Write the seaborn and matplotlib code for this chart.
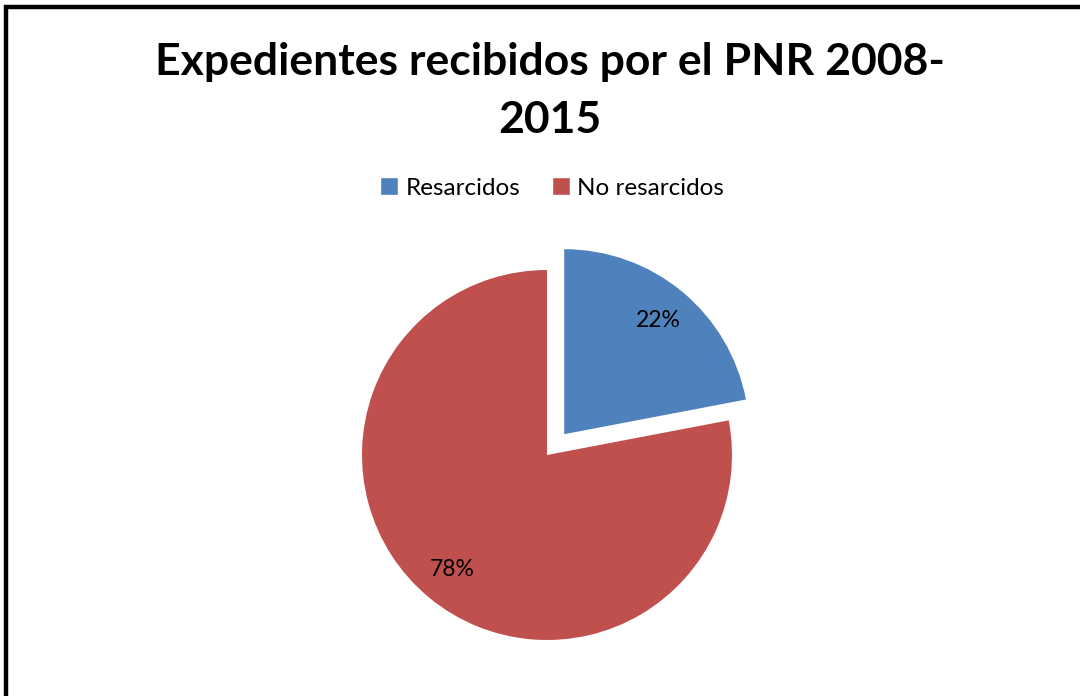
import matplotlib
matplotlib.use("Agg")
import matplotlib.pyplot as plt
from matplotlib.patches import Rectangle
import seaborn as sns

sns.set_theme(style="white")
plt.rcParams["font.family"] = ["Lato", "DejaVu Sans"]
plt.rcParams["text.color"] = "black"

labels = ["Resarcidos", "No resarcidos"]
shares = [22, 78]
colors = ["#4F81BD", "#C0504D"]
title = "Expedientes recibidos por el PNR 2008-\n2015"

W, H = 1080, 696
fig = plt.figure(figsize=(W / 100, H / 100), dpi=100)
fig.patch.set_facecolor("white")

# outer frame (only left/top visible, the rest runs off the canvas)
fig.patches.append(Rectangle((6 / W, -0.05), 1.1, (H - 7.5) / H + 0.05,
                             transform=fig.transFigure, fill=False,
                             edgecolor="black", linewidth=3.2))

ax = fig.add_axes([0, 0, 1, 1])

wedges, texts, autotexts = ax.pie(
    shares,
    colors=colors,
    startangle=90,
    counterclock=False,
    explode=[27, 0],
    center=(547, H - 455),
    radius=185,
    autopct="%d%%",
    pctdistance=0.8,
    textprops={"fontsize": 16.5, "color": "black"},
    wedgeprops={"linewidth": 0},
    frame=True,
)
ax.set_xlim(0, W)
ax.set_ylim(0, H)
ax.set_aspect("equal")
ax.axis("off")

fig.text(550 / W, 1 - 91 / H, title, ha="center", va="center",
         fontsize=32, fontweight="bold", linespacing=1.55, color="black")

handles = [Rectangle((0, 0), 1, 1, facecolor=c) for c in colors]
fig.legend(handles, labels, loc="center", bbox_to_anchor=(552 / W, 1 - 188 / H),
           ncol=2, frameon=False, fontsize=17.5, handlelength=0.75, handleheight=0.75,
           handletextpad=0.3, columnspacing=1.3, labelcolor="black")

fig.savefig("out.png", dpi=100)
